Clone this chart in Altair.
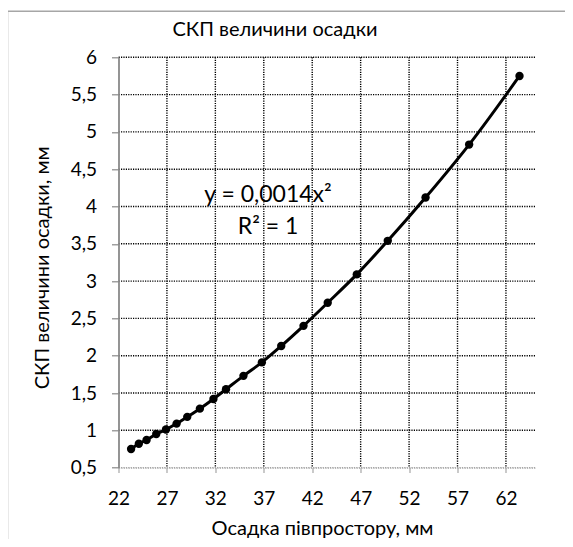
import altair as alt
import pandas as pd

# Data
osadka = [23.3, 24.1, 24.9, 25.9, 26.9, 28.0, 29.1, 30.4, 31.8, 33.1,
          34.9, 36.8, 38.8, 41.1, 43.6, 46.6, 49.8, 53.7, 58.2, 63.4]
skp = [0.75, 0.82, 0.87, 0.95, 1.01, 1.09, 1.18, 1.29, 1.42, 1.55,
       1.73, 1.91, 2.13, 2.40, 2.71, 3.09, 3.54, 4.12, 4.83, 5.75]
x_ticks = [22.0, 27.0, 32.0, 37.0, 42.0, 47.0, 52.0, 57.0, 62.0]
y_ticks = [0.5, 1.0, 1.5, 2.0, 2.5, 3.0, 3.5, 4.0, 4.5, 5.0, 5.5, 6.0]
eq_lines = ["y = 0,0014x²", "R² = 1"]
chart_title = "СКП величини осадки"

df = pd.DataFrame({"x": osadka, "y": skp})

FONT = "Lato"
W, H = 416.5, 410.3

xscale = alt.Scale(domain=[22, 65], nice=False, zero=False)
yscale = alt.Scale(domain=[0.5, 6], nice=False, zero=False)

xaxis = alt.Axis(
    values=x_ticks, format="d", title="Осадка півпростору, мм",
    grid=False, zindex=1,
    domainColor="#a6a6a6", domainDash=[1.2, 1.2], domainWidth=1.4,
    tickColor="#a6a6a6", tickSize=5, tickWidth=1.2,
    labelFont=FONT, labelFontSize=19, labelColor="black", labelPadding=17,
    labelOverlap=False, labelFlush=False,
    titleFont=FONT, titleFontSize=20, titleFontWeight="normal", titleColor="black",
    titleX=203.5, titleY=61, titleBaseline="middle", titleAnchor="middle",
)
yaxis = alt.Axis(
    values=y_ticks, title="СКП величини осадки, мм",
    labelExpr="replace(format(datum.value, '~g'), '.', ',')",
    labelOverlap=False, labelFlush=False,
    grid=False, zindex=1,
    domain=True, domainColor="#898989", domainWidth=1.8,
    tickColor="#898989", tickSize=7, tickWidth=1.2,
    labelFont=FONT, labelFontSize=19, labelColor="black", labelPadding=15,
    titleFont=FONT, titleFontSize=20, titleFontWeight="normal", titleColor="black",
    titleX=-76.5, titleY=210, titleAngle=-90, titleBaseline="middle", titleAlign="center",
)

# gridlines from the tick arrays
ygrid = alt.Chart(pd.DataFrame({"v": y_ticks})).mark_rule(
    strokeDash=[1.2, 1.2], strokeWidth=1.4
).encode(
    y=alt.Y("v:Q", scale=yscale, axis=yaxis),
    color=alt.condition("datum.v == 0.5", alt.value("#a6a6a6"), alt.value("black")),
)
xgrid = alt.Chart(pd.DataFrame({"v": x_ticks[1:]})).mark_rule(
    strokeDash=[1.2, 1.2], strokeWidth=1.4, color="black"
).encode(
    x=alt.X("v:Q", scale=xscale, axis=xaxis),
)

base = alt.Chart(df)

line = base.mark_line(color="black", strokeWidth=3, interpolate="monotone").encode(
    x=alt.X("x:Q", scale=xscale, axis=xaxis),
    y=alt.Y("y:Q", scale=yscale, axis=yaxis),
)
points = base.mark_circle(color="black", opacity=1, size=70).encode(
    x=alt.X("x:Q", scale=xscale, axis=xaxis),
    y=alt.Y("y:Q", scale=yscale, axis=yaxis),
)

eq_df = pd.DataFrame({"t": eq_lines, "py": [137.7, 169.7]})
eq = alt.Chart(eq_df).mark_text(font=FONT, fontSize=23, color="black",
                                align="center", baseline="middle").encode(
    text="t:N", x=alt.value(149.5), y=alt.Y("py:Q", scale=None),
)

title_df = pd.DataFrame({"t": [chart_title]})
title = alt.Chart(title_df).mark_text(font=FONT, fontSize=20, color="black",
                                      align="center", baseline="middle").encode(
    text="t:N", x=alt.value(156.5), y=alt.value(-27.3),
)

frame = alt.Chart(pd.DataFrame({"a": [0]})).mark_rect(
    fill="transparent", stroke="#a6a6a6", strokeWidth=1.5
).encode(x=alt.value(-111), x2=alt.value(700), y=alt.value(-46), y2=alt.value(700))

chart = alt.layer(frame, ygrid, xgrid, line, points, eq, title).properties(
    width=W, height=H,
    padding={"left": 110.5, "top": 49.3, "right": 30, "bottom": 71.4},
    autosize=alt.AutoSizeParams(type="none"),
    background="white",
).configure_view(strokeWidth=0)

chart.save("out.html", embed_options={"renderer": "svg", "actions": False})
